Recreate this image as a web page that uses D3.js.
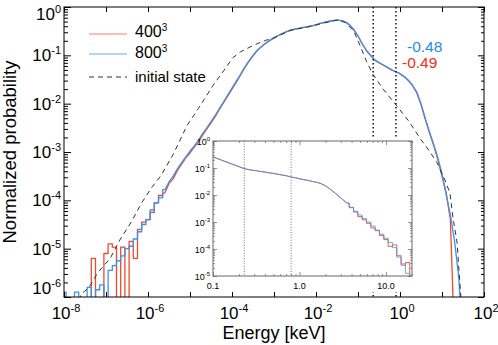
<!DOCTYPE html>
<html><head><meta charset="utf-8">
<script src="https://cdn.jsdelivr.net/npm/d3@7/dist/d3.min.js"></script>
<style>body{margin:0;background:#fff}svg{display:block}text{font-family:"Liberation Sans",Arial,Helvetica,sans-serif}</style>
</head><body><svg id="c" width="498" height="345"></svg>
<script>
// ---- data (log10 values) ----
const mainLogE = [-8.0,-7.9,-7.8,-7.7,-7.6,-7.5,-7.4,-7.3,-7.2,-7.1,
 -7.0,-6.9,-6.8,-6.7,-6.6,-6.5,-6.4,-6.3,-6.2,-6.1,
 -6.0,-5.9,-5.8,-5.7,-5.6,-5.5,-5.4,-5.3,-5.2,-5.1,
 -5.0,-4.9,-4.8,-4.7,-4.6,-4.5,-4.4,-4.3,-4.2,-4.1,
 -4.0,-3.9,-3.8,-3.7,-3.6,-3.5,-3.4,-3.3,-3.2,-3.1,
 -3.0,-2.9,-2.8,-2.7,-2.6,-2.5,-2.4,-2.3,-2.2,-2.1,
 -2.0,-1.9,-1.8,-1.7,-1.6,-1.5,-1.4,-1.3,-1.2,-1.1,
 -1.0,-0.9,-0.8,-0.7,-0.6,-0.5,-0.4,-0.3,-0.2,-0.1,
 0.0,0.1,0.2,0.3,0.4,0.5,0.6,0.7,0.8,0.9,
 1.0,1.1,1.2,1.3,1.4,1.5];
const logP800 = [-5.9,-7,-7,-5.9,-7,-7,-5.8,-7,-5.85,-5.75,
 -7,-5.45,-5.35,-5.25,-5.15,-5.0,-4.95,-4.8,-4.65,-4.5,
 -4.4,-4.2,-4.05,-3.95,-3.78,-3.62,-3.5,-3.35,-3.22,-3.1,
 -2.98,-2.88,-2.76,-2.62,-2.5,-2.37,-2.24,-2.1,-1.96,-1.82,
 -1.68,-1.54,-1.4,-1.25,-1.12,-1.0,-0.9,-0.82,-0.75,-0.69,
 -0.64,-0.59,-0.55,-0.51,-0.48,-0.46,-0.44,-0.42,-0.41,-0.39,
 -0.37,-0.34,-0.32,-0.3,-0.28,-0.27,-0.28,-0.31,-0.37,-0.47,
 -0.6,-0.76,-0.9,-1.0,-1.1,-1.15,-1.2,-1.25,-1.3,-1.34,
 -1.38,-1.44,-1.52,-1.62,-1.76,-2.0,-2.3,-2.58,-2.84,-3.12,
 -3.45,-3.88,-4.3,-4.85,-5.6,-7];
const logP400 = [-7,-7,-7,-7,-7,-7,-7,-5.2,-7,-7,
 -5.1,-4.9,-4.97,-7,-4.97,-7,-4.85,-5.2,-4.6,-4.45,
 -4.4,-4.25,-4.05,-3.9,-3.85,-3.65,-3.55,-3.38,-3.25,-3.12,
 -3.02,-2.9,-2.8,-2.65,-2.52,-2.4,-2.27,-2.12,-1.98,-1.84,
 -1.7,-1.56,-1.41,-1.26,-1.13,-1.01,-0.9,-0.82,-0.75,-0.69,
 -0.64,-0.59,-0.55,-0.51,-0.48,-0.46,-0.44,-0.42,-0.41,-0.39,
 -0.37,-0.34,-0.32,-0.3,-0.28,-0.27,-0.28,-0.31,-0.37,-0.47,
 -0.6,-0.76,-0.9,-1.0,-1.1,-1.15,-1.2,-1.25,-1.3,-1.34,
 -1.38,-1.44,-1.52,-1.63,-1.78,-2.02,-2.32,-2.6,-2.86,-3.15,
 -3.5,-3.85,-4.4,-7,-7,-7];
const initLogE = [-7.7,-7.6,-7.4,-7.2,-6.9,-6.67,-6.4,-6.15,-5.9,-5.7,-5.4,-5.07,-4.8,-4.45,-4.2,-3.98,-3.8,-3.6,-3.4,-3.2,-3.0,
 -2.6,-2.2,-1.8,-1.5,-1.3,-1.1,-0.95,-0.8,-0.64,-0.4,-0.1,0.2,0.48,0.7,0.88,1.07,1.19,1.26,1.36,1.4,1.45,1.5];
const logPInit = [-7,-5.95,-5.8,-5.5,-5.2,-4.82,-4.45,-4.05,-3.72,-3.5,-3.05,-2.45,-2.1,-1.62,-1.32,-1.05,-0.93,-0.84,-0.76,-0.69,-0.64,
 -0.48,-0.41,-0.33,-0.27,-0.32,-0.5,-0.8,-1.12,-1.4,-1.7,-2.02,-2.35,-2.72,-2.98,-3.22,-3.58,-3.85,-4.35,-4.88,-5.4,-6.0,-7];
const insetLogE = [-1.0,-0.95,-0.9,-0.85,-0.8,-0.75,-0.7,-0.65,-0.6,-0.55,-0.5,-0.45,-0.4,-0.35,-0.3,-0.25,-0.2,-0.15,-0.1,-0.05,
 0.0,0.05,0.1,0.15,0.2,0.25,0.3,0.35,0.4,0.45,0.5,0.55,0.6,0.65,0.7,0.75,0.8,0.85,0.9,0.95,
 1.0,1.05,1.1,1.15,1.2,1.25,1.3];
const insetLogP800 = [-0.59,-0.65,-0.71,-0.77,-0.83,-0.89,-0.95,-1.01,-1.05,-1.08,-1.1,-1.13,-1.15,-1.18,-1.2,-1.23,-1.26,-1.29,-1.33,-1.36,
 -1.4,-1.43,-1.46,-1.5,-1.53,-1.58,-1.66,-1.77,-1.9,-2.03,-2.17,-2.3,-2.45,-2.6,-2.74,-2.87,-3.0,-3.15,-3.3,-3.45,
 -3.6,-3.76,-3.95,-4.3,-4.55,-4.9,-6];
const insetLogP400 = [-0.59,-0.65,-0.71,-0.77,-0.83,-0.89,-0.95,-1.01,-1.05,-1.08,-1.1,-1.13,-1.15,-1.18,-1.2,-1.23,-1.26,-1.29,-1.33,-1.36,
 -1.4,-1.43,-1.46,-1.5,-1.53,-1.58,-1.66,-1.77,-1.9,-2.03,-2.17,-2.3,-2.47,-2.63,-2.8,-2.92,-3.05,-3.22,-3.32,-3.5,
 -3.65,-3.9,-3.85,-4.25,-4.6,-4.5,-6];
const dottedEnergies = [0.23, 0.8];
const xLabelExps = [-8,-6,-4,-2,0,2];
const xTickExps = [-8,-7,-6,-5,-4,-3,-2,-1,0,1,2];
const yLabelExps = [0,-1,-2,-3,-4,-5,-6];
const insetYExps = [0,-1,-2,-3,-4,-5];
const insetXLabels = [0.1, 1.0, 10.0];
const legendNames = ["400","800","initial state"];
const legendSup = ["3","3",""];
const slopeTexts = ["-0.48","-0.49"];

// ---- drawing ----
const RED = "#f2492c", BLUE = "#3a92ee", DASH = "#333";
const svg = d3.select("#c");
const pw = v => Math.pow(10, v);
const L = 64, R = 484, T = 7, B = 297;
const x = d3.scaleLog().domain([1e-8, 1e2]).range([L, R]);
const y = d3.scaleLog().domain([1e-6, 1]).range([B, T]);

const defs = svg.append("defs");
defs.append("clipPath").attr("id","mc").append("rect").attr("x",L).attr("y",T).attr("width",R-L).attr("height",B-T);

const mkLine = (sx, sy, curve) => d3.line().x(d => sx(pw(d[0]))).y(d => sy(pw(d[1]))).curve(curve);
// histogram outline: stepped on one side of splitE, polyline on the other
function drawHist(g, es, ps, sx, sy, splitE, stepFirst, color, w, op){
  const pts = es.map((e,i)=>[e,ps[i]]);
  const k = es.findIndex(e => e >= splitE);
  const a = pts.slice(0, k+1), b = pts.slice(k);
  const parts = stepFirst ? [[a, d3.curveStep],[b, d3.curveLinear]] : [[a, d3.curveLinear],[b, d3.curveStep]];
  parts.forEach(([p,c]) => {
    if (p.length < 2) return;
    g.append("path").datum(p).attr("d", mkLine(sx,sy,c)).attr("fill","none")
      .attr("stroke",color).attr("stroke-width",w).attr("stroke-opacity",op).attr("stroke-linejoin","round");
  });
}

const plot = svg.append("g").attr("clip-path","url(#mc)");
drawHist(plot, mainLogE, logP400, x, y, -5.6, true, RED, 1.3, 1);
drawHist(plot, mainLogE, logP800, x, y, -5.6, true, BLUE, 1.3, 1);
plot.append("path").datum(initLogE.map((e,i)=>[e,logPInit[i]]))
  .attr("d", mkLine(x,y,d3.curveLinear)).attr("fill","none").attr("stroke",DASH).attr("stroke-width",1).attr("stroke-dasharray","5,4");
plot.selectAll("line.dot").data(dottedEnergies).enter().append("line")
  .attr("x1",d=>x(d)).attr("x2",d=>x(d)).attr("y1",T).attr("y2",B)
  .attr("stroke","#000").attr("stroke-width",1.4).attr("stroke-dasharray","1.4,2.6");

// main ticks
const decTicks = xTickExps.map(pw);
const yMajor = yLabelExps.map(pw);
const yMinor = [];
yLabelExps.slice(1).forEach(e => { for (let k=2;k<=9;k++) yMinor.push(k*pw(e)); });
function tickG(axis, tr){ const g = svg.append("g").attr("transform",tr).call(axis); g.select(".domain").remove(); g.selectAll("line").attr("stroke","#000"); g.selectAll("text").remove(); return g; }
tickG(d3.axisBottom(x).tickValues(decTicks).tickSize(-5), `translate(0,${B})`);
tickG(d3.axisTop(x).tickValues(decTicks).tickSize(-5), `translate(0,${T})`);
tickG(d3.axisLeft(y).tickValues(yMajor).tickSize(-7), `translate(${L},0)`);
tickG(d3.axisLeft(y).tickValues(yMinor).tickSize(-4), `translate(${L},0)`);
tickG(d3.axisRight(y).tickValues(yMajor).tickSize(-6), `translate(${R},0)`);
tickG(d3.axisRight(y).tickValues(yMinor).tickSize(-3), `translate(${R},0)`);
svg.append("rect").attr("x",L).attr("y",T).attr("width",R-L).attr("height",B-T)
  .attr("fill","none").attr("stroke","#000").attr("stroke-width",1);

// tick labels
function powLabel(g, e, px, py, anchor, fs, sfs, dy){
  const t = g.append("text").attr("x",px).attr("y",py).attr("text-anchor",anchor).attr("font-size",fs).attr("fill","#000");
  t.append("tspan").text("10");
  t.append("tspan").attr("font-size",sfs).attr("dy",dy).text(String(e));
  return t;
}
xLabelExps.forEach(e => powLabel(svg, e, x(pw(e))+2, 319, "middle", 17, 11, -7));
yLabelExps.forEach(e => {
  const cy = Math.max(T+6.5, Math.min(B-9, y(pw(e))));
  powLabel(svg, e, 61, cy+6, "end", 17, 11, -7);
});
svg.append("text").attr("x",(L+R)/2).attr("y",339).attr("text-anchor","middle").attr("font-size",18).text("Energy [keV]");
svg.append("text").attr("transform",`translate(16,${(T+B)/2}) rotate(-90)`).attr("text-anchor","middle").attr("font-size",18.5).text("Normalized probability");

// legend
const legY = [34, 54, 77], legTY = [37, 57.5, 81.5];
const legStyles = [{c:"#ff7a66",d:null},{c:"#6aaaf5",d:null},{c:DASH,d:"5,4"}];
legendNames.forEach((n,i) => {
  const ln = svg.append("line").attr("x1",89).attr("x2",127).attr("y1",legY[i]).attr("y2",legY[i])
    .attr("stroke",legStyles[i].c).attr("stroke-width",1.2);
  if (legStyles[i].d) ln.attr("stroke-dasharray",legStyles[i].d);
  const t = svg.append("text").attr("x",135).attr("y",legTY[i]).attr("font-size",15);
  t.append("tspan").attr("font-size", legendSup[i] ? 16 : 15).text(n);
  if (legendSup[i]) t.append("tspan").attr("font-size",10).attr("dy",-6).text(legendSup[i]);
});
// slope annotations
svg.append("text").attr("x",407).attr("y",52).attr("font-size",15.5).attr("fill","#1e8cf0").text(slopeTexts[0]);
svg.append("text").attr("x",402).attr("y",68).attr("font-size",15.5).attr("fill","#ff2a10").text(slopeTexts[1]);

// ---- inset ----
const iL = 213, iR = 412, iT = 141, iB = 276;
const xi = d3.scaleLog().domain([0.1, 20]).range([iL, iR]);
const yi = d3.scaleLog().domain([1e-5, 1]).range([iB, iT]);
svg.append("rect").attr("x",iL).attr("y",137).attr("width",iR-iL+1).attr("height",iB-137).attr("fill","#fff");
svg.append("rect").attr("x",iL-10).attr("y",iB).attr("width",iR-iL+20).attr("height",16).attr("fill","#fff");
defs.append("clipPath").attr("id","ic").append("rect").attr("x",iL).attr("y",iT).attr("width",iR-iL).attr("height",iB-iT);
const ip = svg.append("g").attr("clip-path","url(#ic)");
ip.selectAll("line.idot").data(dottedEnergies).enter().append("line")
  .attr("x1",d=>xi(d)).attr("x2",d=>xi(d)).attr("y1",iT).attr("y2",iB)
  .attr("stroke","#666").attr("stroke-width",0.9).attr("stroke-dasharray","1,1.6");
drawHist(ip, insetLogE, insetLogP400, xi, yi, 0.55, false, RED, 1, 0.9);
drawHist(ip, insetLogE, insetLogP800, xi, yi, 0.55, false, BLUE, 1, 0.75);

const ixMajor = [0.1,1,10];
const ixMinor = [];
[0.1,1].forEach(b => { for (let k=2;k<=9;k++) ixMinor.push(k*b); });
ixMinor.push(20);
const iyMajor = insetYExps.map(pw);
const iyMinor = [];
insetYExps.slice(1).forEach(e => { for (let k=2;k<=9;k++) iyMinor.push(k*pw(e)); });
function itick(axis, tr){ const g = svg.append("g").attr("transform",tr).call(axis); g.select(".domain").remove(); g.selectAll("line").attr("stroke","#777").attr("stroke-width",0.8); g.selectAll("text").remove(); }
itick(d3.axisBottom(xi).tickValues(ixMajor).tickSize(-4), `translate(0,${iB})`);
itick(d3.axisBottom(xi).tickValues(ixMinor).tickSize(-2), `translate(0,${iB})`);
itick(d3.axisTop(xi).tickValues(ixMajor).tickSize(-4), `translate(0,${iT})`);
itick(d3.axisTop(xi).tickValues(ixMinor).tickSize(-2), `translate(0,${iT})`);
itick(d3.axisLeft(yi).tickValues(iyMajor).tickSize(-4), `translate(${iL},0)`);
itick(d3.axisLeft(yi).tickValues(iyMinor).tickSize(-2), `translate(${iL},0)`);
itick(d3.axisRight(yi).tickValues(iyMajor).tickSize(-4), `translate(${iR},0)`);
itick(d3.axisRight(yi).tickValues(iyMinor).tickSize(-2), `translate(${iR},0)`);
svg.append("rect").attr("x",iL).attr("y",iT).attr("width",iR-iL).attr("height",iB-iT)
  .attr("fill","none").attr("stroke","#666").attr("stroke-width",1);
insetXLabels.forEach(v => {
  svg.append("text").attr("x",xi(v)).attr("y",289).attr("text-anchor","middle").attr("font-size",9).text(v.toFixed(1));
});
insetYExps.forEach(e => powLabel(svg, e, 210, yi(pw(e))+3.5, "end", 9, 6, -4));
</script></body></html>
